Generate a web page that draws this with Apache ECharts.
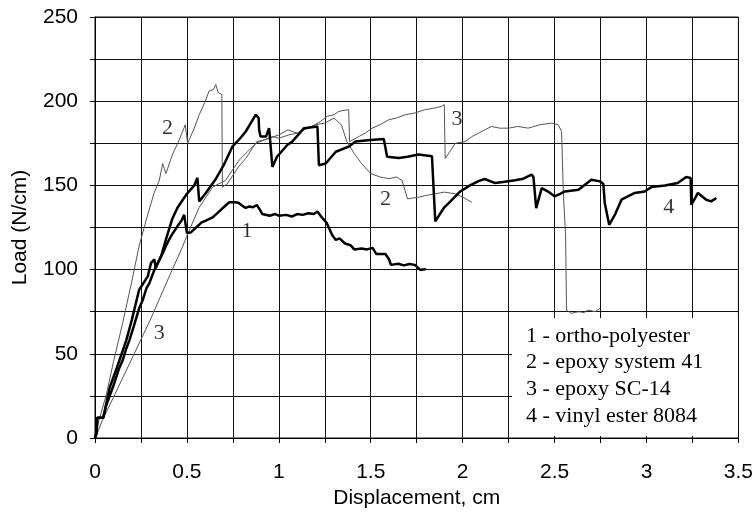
<!DOCTYPE html>
<html>
<head>
<meta charset="utf-8">
<script src="https://cdn.jsdelivr.net/npm/echarts@6/dist/echarts.min.js"></script>
<style>html,body{margin:0;padding:0;background:#fff}#c{width:756px;height:516px}</style>
</head>
<body>
<div id="c"></div>
<script>
// Tick labels
var xTicks = [0, 0.5, 1, 1.5, 2, 2.5, 3, 3.5];
var yTicks = [0, 50, 100, 150, 200, 250];

// Legend entries (text box)
var seriesNames = ['1 - ortho-polyester', '2 - epoxy system 41', '3 - epoxy SC-14', '4 - vinyl ester 8084'];

// Curve 1: ortho-polyester [displacement cm, load N/cm]
var curve1 = [[0,0],[0.008,4],[0.012,12],[0.045,12],[0.06,19],[0.08,25],[0.1,31],[0.13,41],[0.15,46],[0.17,53],[0.187,58],[0.21,66],[0.24,77],[0.26,82],[0.28,89],[0.296,92],[0.32,99],[0.35,106],[0.37,110],[0.39,115],[0.404,118],[0.42,121],[0.45,126],[0.47,129],[0.485,132.5],[0.5,121.8],[0.52,122],[0.55,125],[0.58,128],[0.6,129],[0.62,130],[0.64,131],[0.67,134],[0.7,137],[0.73,140],[0.76,140],[0.78,139.7],[0.8,138],[0.82,136.6],[0.84,137.5],[0.86,137],[0.88,138.4],[0.9,135],[0.91,133],[0.95,132],[0.98,133],[1.0,132],[1.04,132.5],[1.07,131.5],[1.1,133],[1.13,132.5],[1.16,133.5],[1.19,133],[1.21,134.5],[1.23,131.5],[1.26,127.8],[1.29,120.6],[1.31,117.6],[1.33,118.5],[1.36,115.5],[1.39,114.5],[1.41,112],[1.45,112.5],[1.48,112],[1.51,112.9],[1.53,109.3],[1.58,109.3],[1.6,106],[1.61,102.8],[1.65,103.5],[1.68,102.5],[1.71,103.3],[1.74,102.8],[1.77,99.8],[1.8,100.4]];

// Curve 2: epoxy system 41
var curve2 = [[0,0],[0.02,10],[0.06,25],[0.1,45],[0.15,68],[0.2,93],[0.24,114],[0.28,130],[0.32,145],[0.35,153],[0.368,163],[0.386,157],[0.42,168],[0.458,177],[0.491,186],[0.504,175],[0.54,184],[0.567,192],[0.6,200],[0.62,206],[0.645,207],[0.657,210],[0.67,205],[0.69,204],[0.693,149],[0.72,151],[0.75,156],[0.78,161],[0.82,166],[0.85,171],[0.88,176],[0.92,177],[0.95,178],[1.0,180],[1.05,183],[1.1,181],[1.15,184],[1.2,186],[1.25,187],[1.3,190],[1.34,186],[1.37,176],[1.41,169],[1.45,163],[1.5,157],[1.55,155],[1.6,154],[1.64,155],[1.67,153],[1.7,142],[1.76,143],[1.8,144],[1.85,145],[1.9,146],[1.96,145],[2.0,143],[2.05,140]];

// Curve 3: epoxy SC-14
var curve3 = [[0,0],[0.02,5],[0.04,10.5],[0.1,24],[0.2,47],[0.3,70],[0.4,95],[0.47,112],[0.5,120],[0.567,137],[0.64,149],[0.71,153],[0.784,165],[0.83,170],[0.875,175],[0.92,177],[0.965,179],[1.0,178],[1.055,180],[1.1,181],[1.137,183],[1.18,185],[1.227,188],[1.263,191],[1.3,192],[1.327,194],[1.38,195],[1.385,176],[1.435,179],[1.47,181],[1.507,184],[1.55,186],[1.598,189],[1.64,190],[1.689,192],[1.74,193],[1.797,195],[1.85,196],[1.887,197],[1.9,198],[1.905,166],[1.93,170],[1.96,175],[2.013,176],[2.05,179],[2.086,181],[2.12,183],[2.158,185],[2.2,184],[2.25,184],[2.3,185],[2.357,184],[2.42,186],[2.484,187],[2.52,186],[2.538,182],[2.548,145],[2.56,120],[2.565,76],[2.59,74],[2.63,75],[2.66,74.5],[2.683,76],[2.72,75],[2.747,77]];

// Curve 4: vinyl ester 8084
var curve4 = [[0,0],[0.01,3],[0.012,12],[0.045,12],[0.08,30],[0.12,42],[0.17,58],[0.2,70],[0.24,88],[0.287,96],[0.305,104],[0.323,106],[0.33,101],[0.36,108],[0.386,118],[0.42,130],[0.45,137],[0.5,145],[0.54,150],[0.557,154.5],[0.567,140.5],[0.6,145],[0.658,154],[0.7,162],[0.747,173],[0.79,178],[0.82,182],[0.875,192],[0.89,190],[0.893,183],[0.9,179],[0.93,179],[0.947,184],[0.965,161],[0.99,167],[1.046,174],[1.073,176],[1.137,184],[1.21,185],[1.218,162],[1.255,163],[1.31,170],[1.38,173],[1.417,176],[1.5,177],[1.571,177.6],[1.58,178],[1.589,167],[1.652,166.3],[1.7,167],[1.76,168.3],[1.833,167.3],[1.84,168],[1.851,128.6],[1.9,137],[1.924,139.5],[1.987,146.4],[2.04,150],[2.086,152.5],[2.12,153.8],[2.177,151.4],[2.22,152],[2.285,153],[2.33,154],[2.375,156.4],[2.385,155],[2.4,136.5],[2.43,148.4],[2.47,146],[2.5,143.5],[2.53,145],[2.556,146.4],[2.63,147.4],[2.7,153.4],[2.747,152.4],[2.765,151],[2.773,139.5],[2.797,126.6],[2.83,133],[2.864,141.5],[2.936,145.5],[2.99,146.4],[3.027,149],[3.1,150],[3.17,151.4],[3.216,155],[3.24,154.4],[3.244,138.5],[3.28,145.5],[3.325,141.5],[3.352,140.5],[3.38,142.5]];

// Curve number annotations [x, y, text]
var curveTags = [[0.827,122.6,'1'],[0.395,184.1,'2'],[1.58,141.5,'2'],[1.969,189.4,'3'],[0.35,62.3,'3'],[3.121,137.0,'4']];

var chart = echarts.init(document.getElementById('c'), null, {renderer: 'canvas'});
var sans = 'Liberation Sans, Arial, sans-serif';
var serif = 'Liberation Serif, Times New Roman, serif';
var gridColor = '#111';

function lineSeries(name, data, width, color) {
  return {name: name, type: 'line', data: data, showSymbol: false, symbol: 'none',
    lineStyle: {width: width, color: color}, itemStyle: {color: color}, silent: true, z: width > 1.5 ? 4 : 3};
}

var legendGraphics = [{type: 'rect', shape: {x: 512, y: 318, width: 226, height: 118}, style: {fill: '#fff'}, z: 100}];
for (var i = 0; i < seriesNames.length; i++) {
  legendGraphics.push({type: 'text', x: 526, y: 336 + i * 26.6, z: 101,
    style: {text: seriesNames[i], font: '22px ' + serif, fill: '#000', textAlign: 'left', textVerticalAlign: 'middle'}});
}

chart.setOption({
  animation: false,
  backgroundColor: '#fff',
  grid: {left: 95, right: 16, top: 17, bottom: 78, containLabel: false, show: true, borderColor: gridColor, borderWidth: 1, backgroundColor: 'transparent'},
  xAxis: {
    type: 'value', min: 0, max: 3.5, interval: 0.5,
    name: 'Displacement, cm', nameLocation: 'middle', nameGap: 48,
    nameTextStyle: {fontFamily: sans, fontSize: 21, color: '#000'},
    axisLine: {show: true, onZero: false, lineStyle: {color: '#000', width: 1}},
    axisTick: {show: true, length: 5, lineStyle: {color: '#000'}},
    minorTick: {show: true, splitNumber: 2, length: 5, lineStyle: {color: '#000'}},
    splitLine: {show: true, showMinLine: true, showMaxLine: true, lineStyle: {color: gridColor, width: 1, opacity: 1}},
    minorSplitLine: {show: true, lineStyle: {color: gridColor, width: 1, opacity: 1}},
    axisLabel: {margin: 24, fontFamily: sans, fontSize: 21, color: '#000',
      formatter: function (v) { return xTicks.indexOf(v) >= 0 ? String(v) : ''; }}
  },
  yAxis: {
    type: 'value', min: 0, max: 250, interval: 50,
    name: 'Load (N/cm)', nameLocation: 'middle', nameGap: 64, nameRotate: 90,
    nameTextStyle: {fontFamily: sans, fontSize: 21, color: '#000'},
    axisLine: {show: true, lineStyle: {color: '#000', width: 1}},
    axisTick: {show: true, length: 5, lineStyle: {color: '#000'}},
    minorTick: {show: true, splitNumber: 2, length: 5, lineStyle: {color: '#000'}},
    splitLine: {show: true, showMinLine: true, showMaxLine: true, lineStyle: {color: gridColor, width: 1, opacity: 1}},
    minorSplitLine: {show: true, lineStyle: {color: gridColor, width: 1, opacity: 1}},
    axisLabel: {margin: 17, fontFamily: sans, fontSize: 21, color: '#000',
      formatter: function (v) { return yTicks.indexOf(v) >= 0 ? String(v) : ''; }}
  },
  series: [
    lineSeries(seriesNames[1], curve2, 1, '#555'),
    lineSeries(seriesNames[2], curve3, 1, '#555'),
    lineSeries(seriesNames[0], curve1, 2.5, '#000'),
    lineSeries(seriesNames[3], curve4, 2.5, '#000'),
    {type: 'scatter', symbolSize: 0, silent: true, z: 6,
      data: curveTags.map(function (t) { return {value: [t[0], t[1]], name: t[2]}; }),
      label: {show: true, position: 'inside', formatter: '{b}', fontFamily: serif, fontSize: 22, color: '#000'}}
  ],
  graphic: legendGraphics
});
</script>
</body>
</html>
